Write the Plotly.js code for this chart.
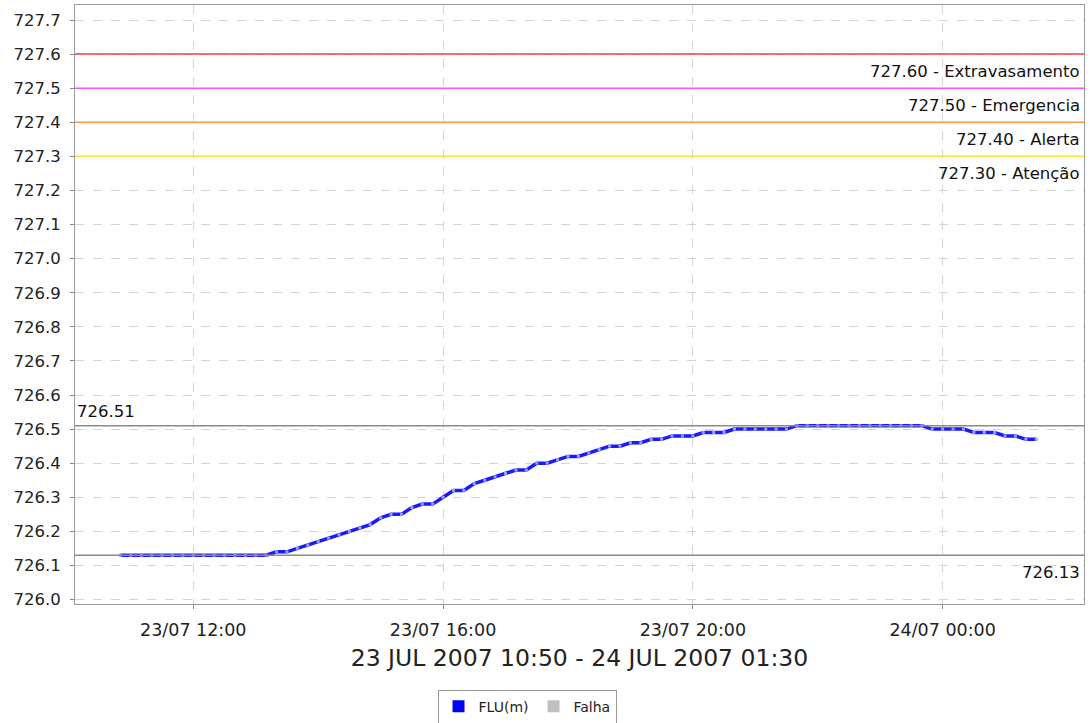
<!DOCTYPE html>
<html>
<head>
<meta charset="utf-8">
<script src="https://cdn.plot.ly/plotly-3.0.1.min.js"></script>
<style>
html,body{margin:0;padding:0;background:#fff;}
#chart{width:1090px;height:723px;}
</style>
</head>
<body>
<div id="chart"></div>
<script>
// Timestamps of readings (every 10 min)
const times = [
 "2007-07-23 10:50","2007-07-23 11:00","2007-07-23 11:10","2007-07-23 11:20","2007-07-23 11:30","2007-07-23 11:40",
 "2007-07-23 11:50","2007-07-23 12:00","2007-07-23 12:10","2007-07-23 12:20","2007-07-23 12:30","2007-07-23 12:40",
 "2007-07-23 12:50","2007-07-23 13:00","2007-07-23 13:10","2007-07-23 13:20","2007-07-23 13:30","2007-07-23 13:40",
 "2007-07-23 13:50","2007-07-23 14:00","2007-07-23 14:10","2007-07-23 14:20","2007-07-23 14:30","2007-07-23 14:40",
 "2007-07-23 14:50","2007-07-23 15:00","2007-07-23 15:10","2007-07-23 15:20","2007-07-23 15:30","2007-07-23 15:40",
 "2007-07-23 15:50","2007-07-23 16:00","2007-07-23 16:10","2007-07-23 16:20","2007-07-23 16:30","2007-07-23 16:40",
 "2007-07-23 16:50","2007-07-23 17:00","2007-07-23 17:10","2007-07-23 17:20","2007-07-23 17:30","2007-07-23 17:40",
 "2007-07-23 17:50","2007-07-23 18:00","2007-07-23 18:10","2007-07-23 18:20","2007-07-23 18:30","2007-07-23 18:40",
 "2007-07-23 18:50","2007-07-23 19:00","2007-07-23 19:10","2007-07-23 19:20","2007-07-23 19:30","2007-07-23 19:40",
 "2007-07-23 19:50","2007-07-23 20:00","2007-07-23 20:10","2007-07-23 20:20","2007-07-23 20:30","2007-07-23 20:40",
 "2007-07-23 20:50","2007-07-23 21:00","2007-07-23 21:10","2007-07-23 21:20","2007-07-23 21:30","2007-07-23 21:40",
 "2007-07-23 21:50","2007-07-23 22:00","2007-07-23 22:10","2007-07-23 22:20","2007-07-23 22:30","2007-07-23 22:40",
 "2007-07-23 22:50","2007-07-23 23:00","2007-07-23 23:10","2007-07-23 23:20","2007-07-23 23:30","2007-07-23 23:40",
 "2007-07-23 23:50","2007-07-24 00:00","2007-07-24 00:10","2007-07-24 00:20","2007-07-24 00:30","2007-07-24 00:40",
 "2007-07-24 00:50","2007-07-24 01:00","2007-07-24 01:10","2007-07-24 01:20","2007-07-24 01:30"
];
// FLU(m) water level readings
const flu = [
 726.13,726.13,726.13,726.13,726.13,726.13,
 726.13,726.13,726.13,726.13,726.13,726.13,
 726.13,726.13,726.13,726.14,726.14,726.15,
 726.16,726.17,726.18,726.19,726.20,726.21,
 726.22,726.24,726.25,726.25,726.27,726.28,
 726.28,726.30,726.32,726.32,726.34,726.35,
 726.36,726.37,726.38,726.38,726.40,726.40,
 726.41,726.42,726.42,726.43,726.44,726.45,
 726.45,726.46,726.46,726.47,726.47,726.48,
 726.48,726.48,726.49,726.49,726.49,726.50,
 726.50,726.50,726.50,726.50,726.50,726.51,
 726.51,726.51,726.51,726.51,726.51,726.51,
 726.51,726.51,726.51,726.51,726.51,726.51,
 726.50,726.50,726.50,726.50,726.49,726.49,
 726.49,726.48,726.48,726.47,726.47
];
// Alert thresholds
const levelValues = [727.60, 727.50, 727.40, 727.30];
const levelNames = ["Extravasamento", "Emergencia", "Alerta", "Atenção"];
const levelColors = ["#ff3b3b", "#ff4dff", "#ff9a40", "#ffe033"];
// Observed max / min
const maxValue = 726.51;
const minValue = 726.13;

const xTitle = "23 JUL 2007 10:50 - 24 JUL 2007 01:30";

const shapes = [];
const annotations = [];
const annFont = {family:'DejaVu Sans', size:16.5, color:'#111'};
levelValues.forEach((v, i) => {
  shapes.push({type:'line', xref:'paper', x0:0, x1:1, yref:'y', y0:v, y1:v,
    line:{color:levelColors[i], width:1.5}});
  annotations.push({xref:'paper', x:0.998, yref:'y', y:v, yshift:-6,
    xanchor:'right', yanchor:'top', showarrow:false,
    text: v.toFixed(2) + " - " + levelNames[i], font:annFont});
});
shapes.push({type:'line', xref:'paper', x0:0, x1:1, yref:'y', y0:maxValue, y1:maxValue,
  line:{color:'#8a8a8a', width:1.5}});
shapes.push({type:'line', xref:'paper', x0:0, x1:1, yref:'y', y0:minValue, y1:minValue,
  line:{color:'#8a8a8a', width:1.5}});
annotations.push({xref:'paper', x:0.0, yref:'y', y:maxValue, yshift:3,
  xanchor:'left', yanchor:'bottom', showarrow:false, text: maxValue.toFixed(2), font:annFont});
annotations.push({xref:'paper', x:0.998, yref:'y', y:minValue, yshift:-6,
  xanchor:'right', yanchor:'top', showarrow:false, text: minValue.toFixed(2), font:annFont});

const traces = [
  {x: times, y: flu, type:'scatter', mode:'lines+markers', showlegend:false,
   line:{color:'#1a1aff', width:3.5},
   marker:{symbol:'square', size:3, color:'#9a9aff'}},
  {x:[null], y:[null], type:'scatter', mode:'markers', name:'FLU(m)',
   marker:{symbol:'square', size:12, color:'#0000ff'}},
  {x:[null], y:[null], type:'scatter', mode:'markers', name:'Falha',
   marker:{symbol:'square', size:12, color:'#c0c0c0'}}
];

const layout = {
  width:1090, height:723,
  margin:{l:75, r:6, t:5, b:119, autoexpand:false},
  paper_bgcolor:'#fff', plot_bgcolor:'#fff',
  font:{family:'DejaVu Sans', color:'#222'},
  xaxis:{
    type:'date',
    range:['2007-07-23 10:06:20','2007-07-24 02:15:50'],
    tick0:'2007-07-23 00:00', dtick:14400000,
    tickformat:'%d/%m %H:%M',
    tickfont:{family:'DejaVu Sans', size:17.5, color:'#222'},
    ticks:'outside', ticklen:4, tickcolor:'#888', ticklabelstandoff:6,
    showgrid:true, gridcolor:'#d4d4d4', griddash:'dash', gridwidth:1,
    showline:true, linecolor:'#999', linewidth:1, mirror:true,
    zeroline:false, automargin:false,
    title:{text:xTitle, font:{family:'DejaVu Sans', size:23.5, color:'#222'}, standoff:10}
  },
  yaxis:{
    range:[725.987, 727.744],
    dtick:0.1, tick0:726.0, tickformat:'.1f',
    tickfont:{family:'DejaVu Sans', size:16.5, color:'#222'},
    ticks:'outside', ticklen:4, tickcolor:'#888', ticklabelstandoff:6,
    showgrid:true, gridcolor:'#d4d4d4', griddash:'dash', gridwidth:1,
    showline:true, linecolor:'#999', linewidth:1, mirror:true,
    zeroline:false, automargin:false
  },
  showlegend:true,
  legend:{orientation:'h', x:0.448, xanchor:'center', y:-0.143, yanchor:'top',
    bordercolor:'#999', borderwidth:1, bgcolor:'#fff',
    font:{family:'DejaVu Sans', size:14, color:'#222'}, itemwidth:30},
  shapes: shapes,
  annotations: annotations
};

Plotly.newPlot('chart', traces, layout, {displayModeBar:false, staticPlot:true});
</script>
</body>
</html>
